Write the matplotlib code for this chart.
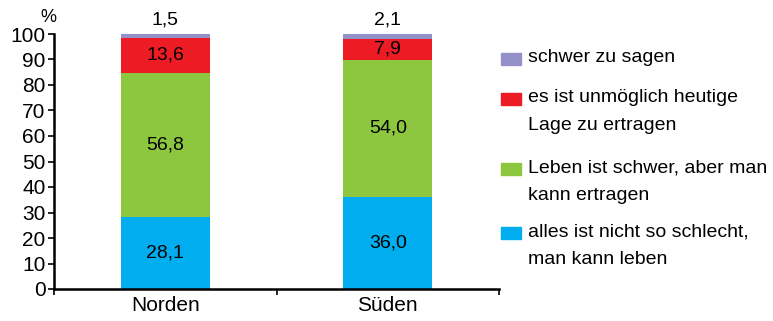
import matplotlib
matplotlib.use("Agg")
import matplotlib.pyplot as plt
from matplotlib.patches import Rectangle

plt.rcParams['font.family'] = ['Liberation Sans', 'DejaVu Sans']

categories = ["Norden", "Süden"]
series_names = ["alles ist nicht so schlecht,\nman kann leben",
                "Leben ist schwer, aber man\nkann ertragen",
                "es ist unmöglich heutige\nLage zu ertragen",
                "schwer zu sagen"]
values_all_ok = [28.1, 36.0]
values_hard = [56.8, 54.0]
values_impossible = [13.6, 7.9]
values_unknown = [1.5, 2.1]
colors = ["#00AEEF", "#8DC63F", "#ED1C24", "#9490C8"]
yticks = [0, 10, 20, 30, 40, 50, 60, 70, 80, 90, 100]

series = [values_all_ok, values_hard, values_impossible, values_unknown]

fig = plt.figure(figsize=(7.73, 3.21), dpi=100)
W, H = 773, 321
ax = fig.add_axes([54 / W, 1 - 289 / H, (499 - 54) / W, (289 - 34) / H])

x = list(range(len(categories)))
bottom = [0.0] * len(categories)
for i, (vals, col) in enumerate(zip(series, colors)):
    ax.bar(x, vals, bottom=bottom, width=0.4, color=col, linewidth=0, zorder=2)
    for j, v in enumerate(vals):
        label = f"{v:.1f}".replace(".", ",")
        if i == len(series) - 1:
            ax.text(x[j], bottom[j] + v + 2.0, label, ha='center', va='bottom', fontsize=14)
        else:
            ax.text(x[j], bottom[j] + v / 2, label, ha='center', va='center', fontsize=14)
    bottom = [b + v for b, v in zip(bottom, vals)]

ax.set_xlim(-0.5, 1.5)
ax.set_ylim(0, 100)
ax.set_yticks(yticks)
ax.set_yticklabels([str(t) for t in yticks], fontsize=15)
ax.set_xticks([-0.5, 0.5, 1.5])
ax.set_xticklabels([])
ax.set_xticks(x, minor=True)
ax.set_xticklabels(categories, minor=True, fontsize=15)
ax.tick_params(axis='x', which='minor', length=0, pad=5)
ax.tick_params(axis='x', which='major', length=4, width=1.2, direction='out')
ax.tick_params(axis='y', length=4, width=1.2, direction='out', pad=2)
for s in ['top', 'right']:
    ax.spines[s].set_visible(False)
for s in ['left', 'bottom']:
    ax.spines[s].set_linewidth(1.8)
fig.text(48 / W, 1 - 17 / H, "%", fontsize=13, ha='center', va='center')

# legend (manual, top to bottom)
leg_items = list(zip(series_names, colors))[::-1]
box_tops = [53, 93, 163, 227]
for (name, col), top in zip(leg_items, box_tops):
    fig.patches.append(Rectangle((501 / W, 1 - (top + 12) / H), 20 / W, 12 / H,
                                 transform=fig.transFigure, color=col))
    fig.text(528 / W, 1 - (top + 5) / H, name.split("\n")[0], fontsize=14,
             ha='left', va='center')
    if "\n" in name:
        fig.text(528 / W, 1 - (top + 33) / H, name.split("\n")[1], fontsize=14,
                 ha='left', va='center')

fig.savefig("out.png", dpi=100)
